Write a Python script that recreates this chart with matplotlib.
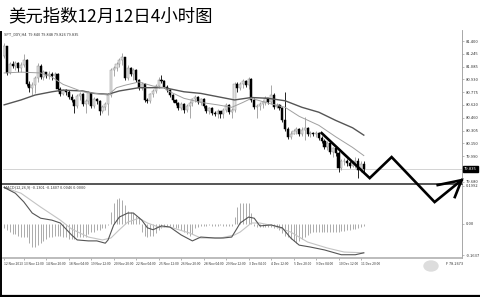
import numpy as np
import matplotlib.pyplot as plt
from matplotlib.lines import Line2D
from matplotlib.patches import Ellipse

plt.rcParams['font.family'] = ['Noto Sans CJK SC', 'DejaVu Sans']

W, H = 480, 297

title = "美元指数12月12日4小时图"
symbol_text = "SPT_DXY,H4  79.840 79.848 79.826 79.835"
macd_text = "MACD(12,26,9) -0.1301 -0.1407 0.0046 0.0000"

# 4h candles (open of each bar = previous close)
first_open = 81.22
close = [81.34, 81.01, 81.12, 81.09, 81.13, 81.07, 81.11, 81.17, 80.87, 80.83,
         80.86, 80.95, 81.09, 80.96, 81.02, 80.98, 81.00, 80.97, 81.00, 80.81,
         80.75, 80.80, 80.78, 80.72, 80.68, 80.61, 80.73, 80.75, 80.63, 80.67,
         80.76, 80.61, 80.69, 80.67, 80.54, 80.59, 80.63, 80.74, 81.05, 81.07,
         81.12, 81.17, 81.20, 80.95, 81.07, 81.00, 81.05, 80.92, 80.83, 80.87,
         80.68, 80.67, 80.75, 80.79, 80.85, 80.92, 80.91, 80.84, 80.80, 80.74,
         80.68, 80.64, 80.58, 80.63, 80.56, 80.61, 80.64, 80.69, 80.72, 80.65,
         80.69, 80.61, 80.54, 80.58, 80.52, 80.51, 80.54, 80.51, 80.56, 80.62,
         80.53, 80.56, 80.87, 80.83, 80.87, 80.91, 80.86, 80.94, 80.68, 80.59,
         80.61, 80.63, 80.65, 80.70, 80.65, 80.74, 80.59, 80.62, 80.58, 80.43,
         80.32, 80.23, 80.27, 80.30, 80.32, 80.26, 80.31, 80.34, 80.26, 80.28,
         80.26, 80.28, 80.21, 80.18, 80.10, 80.15, 80.04, 80.09, 80.03, 79.85,
         79.93, 79.94, 79.91, 79.87, 79.92, 79.94, 79.82, 79.90, 79.835]
high = [81.38, 81.34, 81.14, 81.16, 81.16, 81.14, 81.14, 81.24, 81.18, 80.91,
        80.90, 80.97, 81.13, 81.12, 81.05, 81.02, 81.03, 81.02, 81.02, 81.01,
        80.84, 80.82, 80.81, 80.80, 80.75, 80.69, 80.75, 80.78, 80.77, 80.69,
        80.79, 80.78, 80.72, 80.70, 80.68, 80.62, 80.65, 80.76, 81.07, 81.09,
        81.14, 81.19, 81.25, 81.21, 81.11, 81.08, 81.07, 81.06, 80.93, 80.90,
        80.89, 80.71, 80.77, 80.81, 80.87, 80.96, 80.98, 80.92, 80.86, 80.81,
        80.75, 80.69, 80.65, 80.65, 80.64, 80.63, 80.67, 80.71, 80.74, 80.73,
        80.71, 80.70, 80.62, 80.60, 80.59, 80.54, 80.57, 80.55, 80.58, 80.64,
        80.63, 80.58, 80.90, 80.90, 80.90, 80.94, 80.92, 80.96, 80.95, 80.70,
        80.63, 80.65, 80.68, 80.73, 80.71, 80.86, 80.76, 80.64, 80.63, 80.59,
        80.78, 80.35, 80.30, 80.32, 80.35, 80.34, 80.35, 80.47, 80.35, 80.30,
        80.29, 80.30, 80.29, 80.24, 80.20, 80.18, 80.15, 80.11, 80.10, 80.06,
        79.96, 79.97, 79.96, 79.93, 79.95, 79.98, 79.97, 79.93, 79.93]
low = [81.19, 80.98, 81.00, 81.07, 81.05, 81.02, 81.02, 81.08, 80.85, 80.78,
       80.74, 80.76, 80.90, 80.94, 80.92, 80.95, 80.94, 80.92, 80.95, 80.79,
       80.73, 80.74, 80.74, 80.69, 80.65, 80.52, 80.58, 80.68, 80.61, 80.52,
       80.63, 80.58, 80.58, 80.63, 80.50, 80.52, 80.56, 80.50, 80.72, 80.97,
       81.03, 81.08, 81.11, 80.92, 80.92, 80.97, 80.92, 80.90, 80.80, 80.80,
       80.65, 80.64, 80.64, 80.72, 80.76, 80.83, 80.89, 80.83, 80.78, 80.72,
       80.65, 80.62, 80.56, 80.56, 80.52, 80.53, 80.46, 80.61, 80.65, 80.63,
       80.62, 80.58, 80.52, 80.51, 80.50, 80.48, 80.46, 80.46, 80.46, 80.53,
       80.51, 80.46, 80.53, 80.78, 80.80, 80.83, 80.84, 80.81, 80.65, 80.57,
       80.46, 80.56, 80.58, 80.62, 80.63, 80.63, 80.57, 80.58, 80.56, 80.41,
       80.30, 80.20, 80.20, 80.26, 80.26, 80.24, 80.24, 80.19, 80.24, 80.23,
       80.24, 80.23, 80.19, 80.15, 80.08, 80.07, 80.02, 79.98, 79.99, 79.80,
       79.83, 79.88, 79.87, 79.85, 79.86, 79.85, 79.73, 79.80, 79.80]
open_ = [first_open] + close[:-1]

# moving averages, read at sample bars
ma_fast_idx = [0, 6, 13, 17, 21, 28, 37, 40, 43, 48, 53, 57, 59, 64, 70, 76, 81,
               85, 88, 94, 100, 105, 112, 118, 124, 128]
ma_fast = [81.01, 81.02, 81.01, 80.96, 80.87, 80.78, 80.74, 80.83, 80.86, 80.90,
           80.85, 80.83, 80.78, 80.70, 80.65, 80.62, 80.59, 80.65, 80.70, 80.64,
           80.59, 80.48, 80.37, 80.23, 80.10, 80.00]
ma_slow_idx = [0, 6, 11, 17, 21, 28, 32, 37, 41, 48, 57, 64, 70, 76, 82, 88, 94,
               100, 106, 112, 118, 124, 128]
ma_slow = [80.62, 80.68, 80.74, 80.78, 80.80, 80.79, 80.76, 80.75, 80.79, 80.83,
           80.83, 80.78, 80.76, 80.72, 80.68, 80.71, 80.70, 80.67, 80.59, 80.53,
           80.43, 80.34, 80.25]

# MACD histogram, one per bar
macd_hist = [-0.02, -0.03, -0.04, -0.05, -0.05, -0.06, -0.07, -0.07, -0.07, -0.10,
             -0.12, -0.12, -0.11, -0.10, -0.09, -0.08, -0.07, -0.07, -0.06, -0.06,
             -0.06, -0.07, -0.07, -0.08, -0.08, -0.08, -0.07, -0.07, -0.07, -0.07,
             -0.05, -0.04, -0.04, -0.03, -0.03, -0.02, -0.02, -0.005, 0.06, 0.11,
             0.13, 0.135, 0.125, 0.10, 0.07, 0.06, 0.055, 0.04, 0.035, -0.04,
             -0.06, -0.07, -0.065, -0.06, -0.045, -0.03, -0.02, -0.015, -0.01, -0.01,
             -0.015, -0.02, -0.02, -0.03, -0.04, -0.05, -0.06, -0.05, -0.02, -0.015,
             -0.01, -0.01, -0.01, -0.005, -0.01, -0.01, -0.01, -0.005, -0.01, -0.01,
             -0.01, -0.01, 0.035, 0.09, 0.11, 0.11, 0.11, 0.11, 0.055, -0.01,
             -0.015, -0.015, -0.015, -0.015, -0.015, -0.015, -0.02, -0.02, -0.03, -0.045,
             -0.06, -0.07, -0.08, -0.09, -0.10, -0.09, -0.08, -0.07, -0.055, -0.045,
             -0.04, -0.04, -0.04, -0.04, -0.04, -0.04, -0.04, -0.04, -0.04, -0.04,
             -0.035, -0.035, -0.03, -0.03, -0.025, -0.025, -0.02, -0.015, -0.01]
macd_main_idx = [0, 4, 7, 10, 13, 17, 20, 24, 26, 30, 33, 36, 37, 39, 41, 44, 46,
                 49, 51, 53, 56, 59, 63, 67, 70, 75, 78, 81, 83, 84, 87, 89, 91,
                 95, 99, 102, 105, 109, 114, 120, 125, 128]
macd_main = [0.19, 0.16, 0.115, 0.057, 0.03, 0.02, 0.005, -0.057, -0.083, -0.088,
             -0.088, -0.10, -0.083, -0.005, 0.036, 0.057, 0.057, 0.02, -0.02, -0.03,
             -0.01, -0.016, -0.057, -0.088, -0.068, -0.073, -0.073, -0.068, -0.02, 0.005,
             0.036, 0.03, -0.01, -0.005, -0.02, -0.073, -0.11, -0.12, -0.135, -0.16,
             -0.16, -0.15]
macd_sig_idx = [0, 6, 13, 20, 24, 30, 35, 38, 41, 44, 48, 51, 55, 59, 66, 70, 77,
                82, 84, 88, 91, 96, 102, 108, 115, 121, 128]
macd_sig = [0.19, 0.16, 0.088, 0.02, -0.026, -0.068, -0.083, -0.073, -0.03, 0.01,
            0.03, 0.005, -0.016, -0.016, -0.047, -0.073, -0.073, -0.057, -0.042, 0.005,
            0.005, -0.01, -0.042, -0.094, -0.125, -0.146, -0.15]

price_ticks = [81.400, 81.245, 81.085, 80.930, 80.775, 80.620, 80.460, 80.305,
               80.150, 79.990, 79.680]
macd_ticks = [0.1992, 0.0, -0.1637]
macd_tick_labels = ["0.1992", "0.00", "-0.1637"]
time_labels = ["12 Nov 2013", "13 Nov 12:00", "14 Nov 20:00", "18 Nov 04:00",
               "19 Nov 12:00", "20 Nov 20:00", "22 Nov 04:00", "25 Nov 12:00",
               "26 Nov 20:00", "28 Nov 04:00", "29 Nov 12:00", "3 Dec 04:00",
               "4 Dec 12:00", "5 Dec 20:00", "9 Dec 04:00", "10 Dec 12:00",
               "11 Dec 20:00"]
time_label_idx = [0] + [7 + 8 * k for k in range(16)]

# hand-drawn forecast zigzag (bar index, price)
zig_x = [113.0, 130.1, 137.9, 153.2, 162.8]
zig_y = [80.275, 79.725, 79.982, 79.432, 79.70]
head_x = [154.3, 162.8, 160.4]
head_y = [79.64, 79.70, 79.493]


def rect(l, t, r, b):
    return [l / W, 1 - b / H, (r - l) / W, (b - t) / H]


fig = plt.figure(figsize=(W / 100, H / 100), dpi=100)
fig.patch.set_facecolor('white')

ax = fig.add_axes(rect(3, 30, 462, 183))
ax2 = fig.add_axes(rect(3, 184, 462, 258))
for a in (ax, ax2):
    a.set_facecolor('none')
    a.set_xlim(-0.4, 162.95)
    for s in ('top', 'left', 'bottom'):
        a.spines[s].set_visible(False)
    a.spines['right'].set_color('#999999')
    a.spines['right'].set_linewidth(0.6)
    a.yaxis.tick_right()
    a.tick_params(axis='y', labelsize=3.0, length=1.5, width=0.4, pad=1,
                  color='#888888', labelcolor='#333333')
ax.set_zorder(3)

# price panel
ax.set_ylim(79.665, 81.535)
x = np.arange(len(close))
o = np.array(open_)
c = np.array(close)
top = np.maximum(o, c)
bot = np.minimum(o, c)
hi = np.maximum(np.array(high), top)
lo = np.minimum(np.array(low), bot)
up = c >= o
ax.axhline(close[-1], color='#cccccc', lw=0.6, zorder=1)
ax.vlines(x[up], lo[up], hi[up], color='#9a9a9a', lw=0.6, zorder=2)
ax.vlines(x[~up], lo[~up], hi[~up], color='black', lw=0.6, zorder=2)
body = np.maximum(top - bot, 0.008)
ax.bar(x[up], body[up], bottom=bot[up], width=0.75, color='#e2e2e2',
       edgecolor='#8f8f8f', linewidth=0.35, zorder=3)
ax.bar(x[~up], body[~up], bottom=bot[~up], width=0.75, color='black',
       edgecolor='black', linewidth=0.35, zorder=3)
ax.plot(ma_slow_idx, ma_slow, color='#555555', lw=1.0, zorder=4)
ax.plot(ma_fast_idx, ma_fast, color='#a0a0a0', lw=0.7, zorder=4)
ax.set_xticks([])
ax.set_yticks(price_ticks)
ax.set_yticklabels([f"{v:.3f}" for v in price_ticks])
ax.annotate(f"{close[-1]:.3f}", xy=(1, close[-1]), xycoords=('axes fraction', 'data'),
            xytext=(1.5, 0), textcoords='offset points', fontsize=3.0, color='white',
            va='center', ha='left',
            bbox=dict(boxstyle='square,pad=0.25', fc='black', ec='black'))

# zigzag arrow
ax.plot(zig_x, zig_y, color='black', lw=1.9, clip_on=False, zorder=10,
        solid_joinstyle='miter')
ax.plot(head_x, head_y, color='black', lw=1.9, clip_on=False, zorder=10,
        solid_joinstyle='miter')

# MACD panel
ax2.set_ylim(-0.177, 0.208)
ax2.vlines(x, 0, macd_hist, color='#ababab', lw=0.7)
ax2.plot(macd_sig_idx, macd_sig, color='#c4c4c4', lw=0.8)
ax2.plot(macd_main_idx, macd_main, color='#555555', lw=0.8)
ax2.set_yticks(macd_ticks)
ax2.set_yticklabels(macd_tick_labels)
ax2.spines['bottom'].set_visible(True)
ax2.spines['bottom'].set_color('#b0b0b0')
ax2.spines['bottom'].set_linewidth(1.2)
ax2.set_xticks(time_label_idx)
ax2.set_xticklabels(time_labels, ha='left')
ax2.tick_params(axis='x', labelsize=2.4, length=1.5, width=0.4, pad=1.5,
                color='#777777', labelcolor='#333333')

# frame lines and texts
fig.add_artist(Line2D([0, 462 / W], [1 - 183.5 / H] * 2, color='#555555', lw=1.4))
fig.add_artist(Line2D([0.8 / W] * 2, [0, 1 - 32 / H], color='black', lw=1.4))
fig.add_artist(Line2D([0, 1], [1.2 / H] * 2, color='black', lw=1.6))
fig.text(8 / W, 1 - 16 / H, title, fontsize=12.5, va='center', ha='left', color='black')
fig.text(4 / W, 1 - 34.5 / H, symbol_text, fontsize=2.8, va='center', ha='left', color='#333333')
fig.text(4 / W, 1 - 187.5 / H, macd_text, fontsize=2.8, va='center', ha='left', color='#333333')
fig.add_artist(Ellipse((431 / W, 1 - 266 / H), 14 / W, 10 / H, color='#dddddd'))
fig.text(446 / W, 1 - 264 / H, "F 78.2673", fontsize=2.8, va='center', ha='left', color='#333333')

fig.savefig('out.png', dpi=100)
